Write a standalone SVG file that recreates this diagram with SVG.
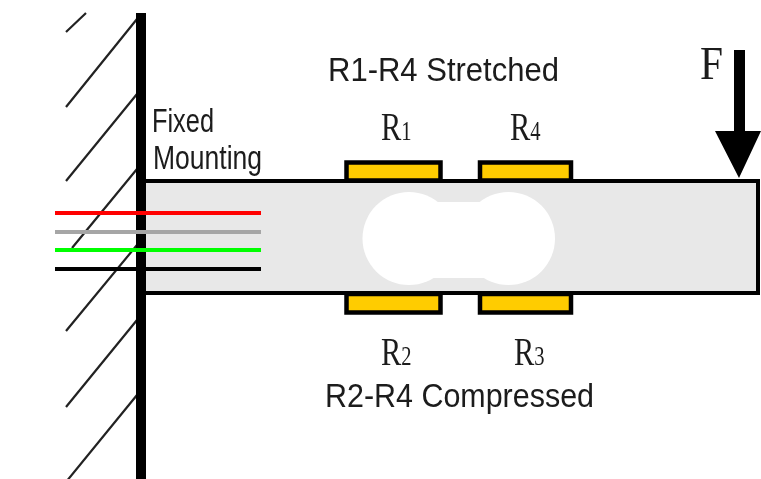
<svg xmlns="http://www.w3.org/2000/svg" width="761" height="479" viewBox="0 0 761 479">
<style>
.hatch{stroke:#222;stroke-width:2.2;fill:none}
.gauge{fill:#ffcc00;stroke:#000;stroke-width:4.5}
.wire{stroke-width:4;fill:none}
.lbl{font-family:"Liberation Sans",Arial,sans-serif;fill:#1a1a1a;font-size:34px}
.ser{font-family:"Liberation Serif","Times New Roman",serif;fill:#1a1a1a;font-size:40px}
.sub{font-size:27px}
</style>
<defs><filter id="soft" x="-2%" y="-2%" width="104%" height="104%"><feGaussianBlur stdDeviation="0.6"/></filter></defs>
<rect width="761" height="479" fill="#fff"/>
<g filter="url(#soft)">
<g id="wall">
<path class="hatch" d="M66 32L86 13M66 107L137 19M66 181L137 94M72 248L137 169M66 331L137 245M66 407L137 320M66 482L137 395"/>
</g>
<g id="beam">
<rect x="144" y="181" width="614" height="112" fill="#e8e8e8" stroke="#000" stroke-width="4"/>
<g fill="#fff"><circle cx="409" cy="238.5" r="46.5"/><circle cx="508.5" cy="238.5" r="46.5"/><rect x="409" y="202" width="100" height="76"/></g>
</g>
<g id="gauge-r1"><rect class="gauge" x="346.500" y="162.500" width="94" height="18"/><text class="ser" transform="translate(381,140) scale(.76,1)">R<tspan class="sub">1</tspan></text></g>
<g id="gauge-r4"><rect class="gauge" x="480" y="162.500" width="91" height="18"/><text class="ser" transform="translate(510,140) scale(.76,1)">R<tspan class="sub">4</tspan></text></g>
<g id="gauge-r2"><rect class="gauge" x="346.500" y="294" width="94" height="18.500"/><text class="ser" transform="translate(381,365) scale(.76,1)">R<tspan class="sub">2</tspan></text></g>
<g id="gauge-r3"><rect class="gauge" x="480" y="294" width="91" height="18.500"/><text class="ser" transform="translate(514,365) scale(.76,1)">R<tspan class="sub">3</tspan></text></g>
<g id="mount-post"><rect x="136" y="13" width="10" height="466" fill="#000"/></g>
<g id="connectors">
<path class="wire" stroke="#ff0000" d="M55 213H261"/>
<path class="wire" stroke="#a6a6a6" d="M55 232H261"/>
<path class="wire" stroke="#00ff00" d="M55 250H261"/>
<path class="wire" stroke="#000" d="M55 269H261"/>
</g>
<g id="force">
<path d="M734 50H745V131H761L739 178L715 131H734Z" fill="#000"/>
<text class="ser" transform="translate(700,79) scale(.9,1)" style="font-size:46px">F</text>
</g>
<g id="labels">
<text class="lbl" x="328" y="81" textLength="231" lengthAdjust="spacingAndGlyphs">R1-R4 Stretched</text>
<text class="lbl" x="325" y="407" textLength="269" lengthAdjust="spacingAndGlyphs">R2-R4 Compressed</text>
<text class="lbl" x="152" y="132" textLength="62" lengthAdjust="spacingAndGlyphs">Fixed</text>
<text class="lbl" x="153" y="169" textLength="109" lengthAdjust="spacingAndGlyphs">Mounting</text>
</g>
</g>
</svg>
